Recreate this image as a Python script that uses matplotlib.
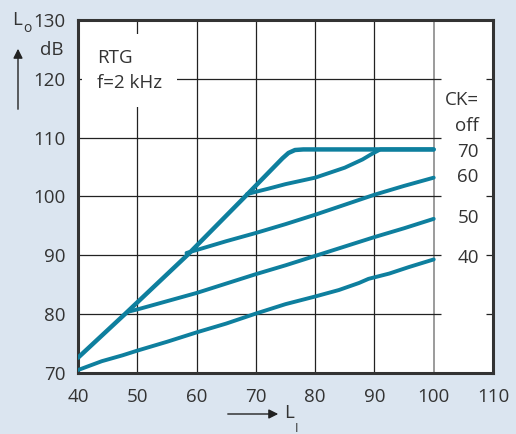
import matplotlib.pyplot as plt
from matplotlib.transforms import blended_transform_factory

plt.rcParams['font.family'] = ['Open Sans', 'DejaVu Sans']

bg = '#dbe5f0'
teal = '#0e7f9e'
txt = '#333333'

# envelope (CK = off)
main_x = [40, 47.9, 58.4, 68.2, 74.5, 75.5, 76.6, 78, 100]
main_y = [72.6, 80.0, 90.0, 100.0, 106.5, 107.4, 107.9, 108, 108]

ck70_x = [68.5, 70, 72, 75, 80, 85, 88, 89.5, 91, 100]
ck70_y = [100.4, 100.8, 101.3, 102.1, 103.2, 104.9, 106.3, 107.2, 108, 108]

ck60_x = [58.3, 60, 65, 70, 75, 80, 85, 90, 95, 100]
ck60_y = [90.4, 90.9, 92.4, 93.8, 95.3, 96.9, 98.6, 100.3, 101.8, 103.2]

ck50_x = [48.4, 50, 55, 60, 65, 70, 75, 80, 85, 90, 95, 100]
ck50_y = [80.4, 80.8, 82.2, 83.6, 85.2, 86.8, 88.3, 89.9, 91.5, 93.1, 94.6, 96.2]

ck40_x = [40, 44, 47.5, 50, 55, 60, 65, 70, 75, 80, 84, 87.4, 89, 92.5, 95.8, 100]
ck40_y = [70.5, 72.0, 73.0, 73.8, 75.3, 76.9, 78.4, 80.1, 81.7, 83.0, 84.1, 85.3, 86.0, 86.9, 88.0, 89.3]

xticks = [40, 50, 60, 70, 80, 90, 100, 110]
yticks = [70, 80, 90, 100, 110, 120, 130]

ck_labels = ['70', '60', '50', '40']
ck_label_y = [107.6, 103.3, 96.3, 89.5]

fig = plt.figure(figsize=(5.16, 4.34), dpi=100, facecolor=bg)
ax = fig.add_axes([0.1512, 0.1406, 0.8042, 0.8133])
ax.set_facecolor('white')
ax.set_xlim(40, 110)
ax.set_ylim(70, 130)

# grid
ax.vlines(xticks[1:-2], 70, 130, color='#222222', lw=0.9, zorder=1)
ax.vlines(xticks[-2], 70, 130, color='#8a8a8a', lw=1.2, zorder=1)
ax.hlines(yticks[1:-1], 40, 101.2, color='#222222', lw=0.9, zorder=1)

for xs, ys in [(ck40_x, ck40_y), (ck50_x, ck50_y), (ck60_x, ck60_y), (ck70_x, ck70_y)]:
    ax.plot(xs, ys, color=teal, lw=2.8, solid_capstyle='round', solid_joinstyle='round', zorder=3)
ax.plot(main_x, main_y, color=teal, lw=3.2, solid_capstyle='round', solid_joinstyle='round', zorder=3)

for s in ax.spines.values():
    s.set_color('#333333')
    s.set_linewidth(2.2)

ax.set_xticks(xticks)
ax.set_yticks(yticks)
ax.tick_params(axis='x', length=0, pad=11, labelsize=13.5, labelcolor=txt)
ax.tick_params(axis='y', left=False, right=True, direction='in', length=5,
               width=0.9, color='#222222', pad=9, labelsize=13.5, labelcolor=txt)

ax.text(43.2, 121.4, 'RTG\nf=2 kHz', fontsize=13.5, color=txt, va='center', ha='left',
        linespacing=1.5, zorder=2,
        bbox=dict(facecolor='white', edgecolor='none', pad=11))

ax.text(107.6, 116.4, 'CK=', fontsize=13.5, color=txt, ha='right', va='center')
ax.text(107.6, 111.9, 'off', fontsize=13.5, color=txt, ha='right', va='center')
for lab, yy in zip(ck_labels, ck_label_y):
    ax.text(107.6, yy, lab, fontsize=13.5, color=txt, ha='right', va='center')

trans = blended_transform_factory(ax.transAxes, ax.transData)
ax.text(-0.036, 124.9, 'dB', transform=trans, fontsize=13.5, color=txt, ha='right', va='center')

# axis names with arrows
fig.text(12 / 516, 1 - 20 / 434, 'L', fontsize=13.5, color=txt, ha='left', va='center')
fig.text(23 / 516, 1 - 29 / 434, 'o', fontsize=10, color=txt, ha='left', va='center')
ax.annotate('', xy=(18 / 516, 1 - 46 / 434), xytext=(18 / 516, 1 - 112 / 434),
            xycoords='figure fraction',
            arrowprops=dict(arrowstyle='-|>', color='#222222', lw=1.0, mutation_scale=14))

ax.annotate('', xy=(281 / 516, 1 - 414 / 434), xytext=(225 / 516, 1 - 414 / 434),
            xycoords='figure fraction',
            arrowprops=dict(arrowstyle='-|>', color='#222222', lw=1.0, mutation_scale=14))
fig.text(284 / 516, 1 - 413 / 434, 'L', fontsize=13.5, color=txt, ha='left', va='center')
fig.text(295 / 516, 1 - 428 / 434, 'I', fontsize=9, color=txt, ha='left', va='center')

fig.savefig('out.png', dpi=100, facecolor=bg)
